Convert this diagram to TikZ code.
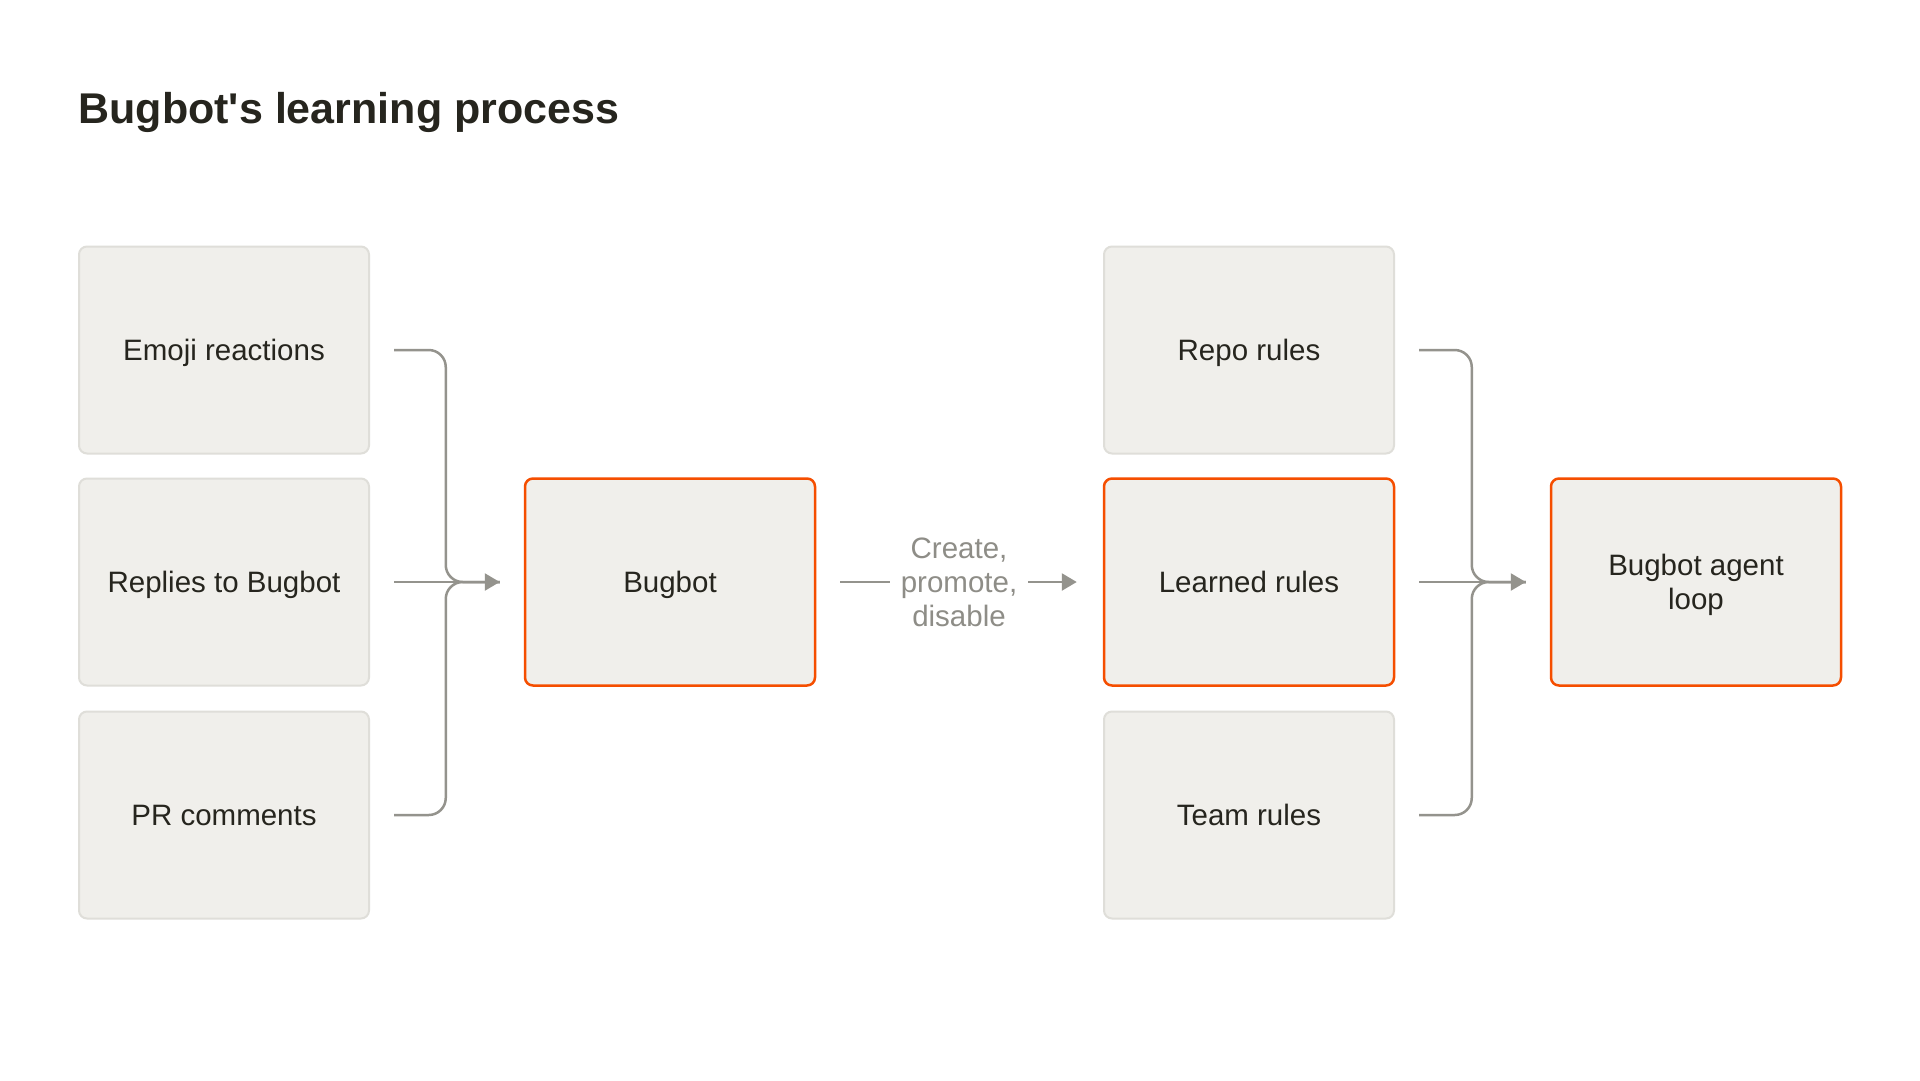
\documentclass[tikz,border=0pt]{standalone}
\usepackage{fontspec}
\setmainfont{Liberation Sans}
\usetikzlibrary{arrows.meta}
\definecolor{cardfill}{HTML}{F0EFEB}
\definecolor{cardline}{HTML}{DFDED9}
\definecolor{hotline}{HTML}{F54E00}
\definecolor{wire}{HTML}{94938D}
\definecolor{ink}{HTML}{26251E}
\definecolor{note}{HTML}{8E8D87}
\newcommand{\boxw}{290pt}
\newcommand{\boxh}{207pt}
\newcommand{\gap}{24pt}
\tikzset{
  card/.style={draw=cardline, fill=cardfill, line width=2pt, rounded corners=8pt,
    minimum width=\boxw, minimum height=\boxh, inner sep=0pt, align=center,
    text depth=0pt, text=ink, font=\fontsize{29.5}{34}\selectfont},
  hot/.style={card, draw=hotline, line width=2.5pt},
  link/.style={draw=wire, line width=2.5pt, rounded corners=17pt},
  tip/.style={-{Triangle[length=15pt, width=17pt]}},
}

\begin{document}
\begin{tikzpicture}[x=1pt, y=-1pt]
\fill[white] (0,0) rectangle (1920,1080);
\useasboundingbox (0,0) rectangle (1920,1080);
\node[anchor=base west, text=ink, font=\fontsize{43}{50}\selectfont\bfseries] (title) at (75,123) {Bugbot\textquotesingle s learning process};
% inputs
\node[card] (emoji) at (224,350) {Emoji reactions};
\node[card] (replies) at (224,582) {Replies to Bugbot};
\node[card] (pr) at (224,815) {PR comments};
\node[hot] (bugbot) at (670,582) {Bugbot};
% rules
\node[card] (repo) at (1249,350) {Repo rules};
\node[hot] (learned) at (1249,582) {Learned rules};
\node[card] (team) at (1249,815) {Team rules};
\node[hot] (agent) at (1696,582) {Bugbot agent\\loop};
\node[text=note, align=center, inner xsep=11pt, font=\fontsize{29.5}{34}\selectfont] (edit) at (959,582) {Create,\\promote,\\disable};
% merge into Bugbot
\draw[link] ([xshift=\gap]emoji.east) -| ([xshift=-78pt]bugbot.west) -- ([xshift=-\gap]bugbot.west);
\draw[link] ([xshift=\gap]pr.east) -| ([xshift=-78pt]bugbot.west) -- ([xshift=-\gap]bugbot.west);
\draw[link, tip] ([xshift=\gap]replies.east) -- ([xshift=-\gap]bugbot.west);
% Bugbot to learned rules
\draw[link] ([xshift=\gap]bugbot.east) -- (edit.west);
\draw[link, tip] (edit.east) -- ([xshift=-26pt]learned.west);
% merge into agent loop
\draw[link] ([xshift=\gap]repo.east) -| ([xshift=-78pt]agent.west) -- ([xshift=-\gap]agent.west);
\draw[link] ([xshift=\gap]team.east) -| ([xshift=-78pt]agent.west) -- ([xshift=-\gap]agent.west);
\draw[link, tip] ([xshift=\gap]learned.east) -- ([xshift=-\gap]agent.west);
\end{tikzpicture}
\end{document}
